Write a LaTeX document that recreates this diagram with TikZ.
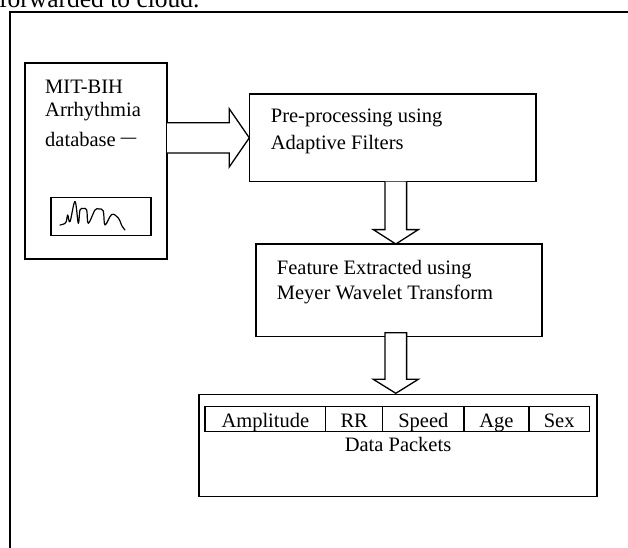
\documentclass[tikz,border=0pt]{standalone}
\usepackage{fontspec}
\setmainfont{Liberation Serif}
\usetikzlibrary{calc}
\tikzset{
  box/.style={draw, line width=1.3pt, inner sep=0pt, outer sep=0pt, anchor=north west},
  lbl/.style={anchor=base west, inner sep=0pt, font=\fontsize{20.5}{24}\selectfont},
  clbl/.style={anchor=base, inner sep=0pt, font=\fontsize{20.5}{24}\selectfont},
  barrow/.style={draw, fill=white, line width=1.3pt, line join=miter},
  frame/.style={line width=2pt},
  wave/.style={line width=1.2pt, line cap=round, line join=round}
}
\begin{document}
\begin{tikzpicture}[x=1pt,y=-1pt]
\useasboundingbox (0,0) rectangle (628,547);
% page text and frame
\node[anchor=base west, inner sep=0pt, font=\fontsize{25.5}{30}\selectfont] (toptext) at (-1,7) {forwarded to cloud.};
\draw[frame] (632,11.5) -- (10,11.5) -- (10,552);
% database box
\node[box, minimum width=142pt, minimum height=196pt] (db) at (25,63) {};
\node[lbl] (db1) at (45,93) {MIT-BIH};
\node[lbl] (db2) at (45,116.5) {Arrhythmia};
\node[lbl] (db3) at (45,146) {database \raisebox{3pt}{\scalebox{1.5}[1]{–}}};
\node[box, minimum width=100pt, minimum height=38pt] (wavebox) at (51,197.3) {};
\draw[wave] plot[smooth, tension=0.6] coordinates {(60,225) (65.7,222.7) (67.7,215) (70,221.7) (75,201.5) (78.3,223.3) (80,210) (83.3,208.5) (86.7,210) (88.3,223.3) (95,210) (99,209) (103.3,211) (105,225) (111.7,214.5) (118.3,218) (122,226) (125,230)};
% pre-processing
\node[box, minimum width=286.7pt, minimum height=87.7pt] (pre) at (249.3,94) {};
\node[lbl] (pre1) at (270.7,122.7) {Pre-processing using};
\node[lbl] (pre2) at (270.7,149.3) {Adaptive Filters};
% feature
\node[box, minimum width=286pt, minimum height=92.7pt] (feat) at (256,244) {};
\node[lbl] (feat1) at (276.7,274) {Feature Extracted using};
\node[lbl] (feat2) at (276.7,299) {Meyer Wavelet Transform};
% data packets
\node[box, minimum width=398pt, minimum height=102pt] (data) at (199,394.7) {};
\node[box, minimum width=120.7pt, minimum height=25pt] (c1) at (205,406.7) {};
\node[box, minimum width=57pt, minimum height=25pt] (c2) at (c1.north east) {};
\node[box, minimum width=81.3pt, minimum height=25pt] (c3) at (c2.north east) {};
\node[box, minimum width=65pt, minimum height=25pt] (c4) at (c3.north east) {};
\node[box, minimum width=60.3pt, minimum height=25pt] (c5) at (c4.north east) {};
\node[clbl] at ($(c1.south)+(0,-4.4)$) {Amplitude};
\node[clbl] at ($(c2.south)+(0,-4.4)$) {RR};
\node[clbl] at ($(c3.south)+(0,-4.4)$) {Speed};
\node[clbl] at ($(c4.south)+(0,-4.4)$) {Age};
\node[clbl] at ($(c5.south)+(0,-4.4)$) {Sex};
\node[clbl] (dplbl) at (398,451.7) {Data Packets};
% block arrow db -> pre
\coordinate (t0) at (pre.west);
\coordinate (s0) at (db.east |- t0);
\draw[barrow] ($(s0)+(0,-15.2)$) -- ($(t0)+(-20,-15.2)$) -- ($(t0)+(-20,-29)$) -- (t0)
  -- ($(t0)+(-20,29)$) -- ($(t0)+(-20,15.2)$) -- ($(s0)+(0,15.2)$);
% block arrow pre -> feat
\coordinate (t1) at ($(feat.north)+(-3.2,0)$);
\coordinate (s1) at (pre.south -| t1);
\draw[barrow] ($(s1)+(-10.8,0)$) -- ($(t1)+(-10.8,-14.4)$) -- ($(t1)+(-22.5,-14.4)$) -- (t1)
  -- ($(t1)+(22.5,-14.4)$) -- ($(t1)+(10.8,-14.4)$) -- ($(s1)+(10.8,0)$);
% block arrow feat -> data
\coordinate (t2) at ($(data.north)+(-2.2,-1.4)$);
\coordinate (s2) at ($(feat.south -| t2)+(0,-4)$);
\draw[barrow] ($(s2)+(-10.8,0)$) -- ($(t2)+(-10.8,-14)$) -- ($(t2)+(-22.5,-14)$) -- (t2)
  -- ($(t2)+(22.5,-14)$) -- ($(t2)+(10.8,-14)$) -- ($(s2)+(10.8,0)$) -- cycle;
\end{tikzpicture}
\end{document}
